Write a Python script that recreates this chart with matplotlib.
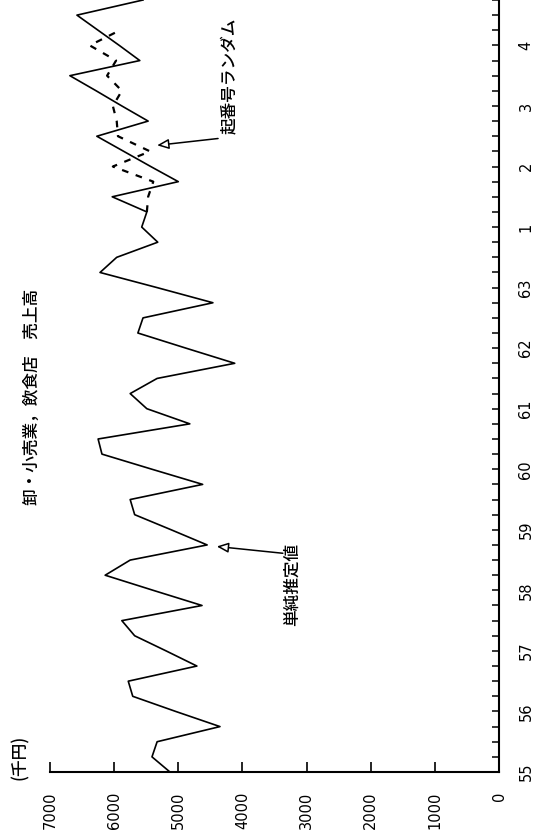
import matplotlib.pyplot as plt
from matplotlib.ticker import MultipleLocator

# Quarterly sales, Showa 55 Q1 .. Heisei 4 Q4 (thousand yen)
quarters = list(range(52))
sales_simple = [
    5130, 5410, 5330, 4350, 5040, 5710, 5780, 4710,
    5190, 5680, 5880, 4630, 5390, 6140, 5750, 4550,
    5110, 5680, 5750, 4620, 5410, 6190, 6250, 4820,
    5490, 5750, 5330, 4120, 4880, 5630, 5550, 4460,
    5330, 6220, 5960, 5320, 5570, 5490, 6030, 5000,
    5430, 5850, 6270, 5470, 5880, 6280, 6690, 5600,
    5920, 6250, 6580, 5550,
]

# Random start number series, only for the last years
quarters_random = list(range(37, 50))
sales_random = [
    5490, 5470, 5390, 6020, 5440, 5940, 5960, 6020,
    5880, 6110, 5970, 6380, 5910,
]

year_labels = ['55', '56', '57', '58', '59', '60', '61', '62', '63',
               '1', '2', '3', '4']
value_ticks = [7000, 6000, 5000, 4000, 3000, 2000, 1000, 0]

jp = 'Noto Sans CJK JP'

fig = plt.figure(figsize=(5.34, 8.39), dpi=100)
ax = fig.add_axes([50 / 534, 67 / 839, 449 / 534, 772 / 839])

# chart is drawn turned on its side: values run right to left, time bottom to top
ax.plot(sales_simple, quarters, color='black', linewidth=1.2)
ax.plot(sales_random, quarters_random, color='black', linewidth=1.6,
        linestyle=(0, (3, 3.5)))

ax.set_xlim(7000, 0)
ax.set_ylim(0, 51)

ax.spines['top'].set_visible(False)
ax.spines['left'].set_visible(False)
ax.spines['bottom'].set_linewidth(1.5)
ax.spines['right'].set_linewidth(1.5)

ax.set_xticks(value_ticks)
ax.set_xticklabels([str(v) for v in value_ticks], rotation=90)
ax.tick_params(axis='x', direction='in', length=7, width=1.2,
               labelsize=10.5, pad=14)

ax.yaxis.tick_right()
ax.set_yticks(quarters[::4])
ax.set_yticklabels(year_labels, rotation=90, va='center')
ax.yaxis.set_minor_locator(MultipleLocator(1))
ax.tick_params(axis='y', which='both', direction='in', length=5, width=1.1,
               labelsize=10.5, pad=14)

# labels and arrows
fig.text(32 / 534, 1 - 397 / 839, '卸・小売業，飲食店　売上高', family=jp,
         fontsize=12, fontweight='medium', rotation=90,
         ha='center', va='center')
fig.text(20 / 534, 1 - 757 / 839, '(千円)', family=jp, fontsize=12,
         fontweight='medium', rotation=90, ha='center', va='center')

arrow = dict(arrowstyle='-|>,head_length=0.7,head_width=0.3',
             fc='white', ec='black', lw=1.1, shrinkA=0, shrinkB=0)
ax.annotate('', xy=(5330, 41.4), xytext=(4380, 41.85), arrowprops=arrow)
ax.text(4210, 46.0, '起番号ランダム', family=jp, fontsize=12,
        fontweight='medium', rotation=90, ha='center', va='center')

ax.annotate('', xy=(4400, 14.9), xytext=(3370, 14.45), arrowprops=arrow)
ax.text(3230, 12.4, '単純推定値', family=jp, fontsize=12,
        fontweight='medium', rotation=90, ha='center', va='center')

fig.savefig('out.png', dpi=100)
